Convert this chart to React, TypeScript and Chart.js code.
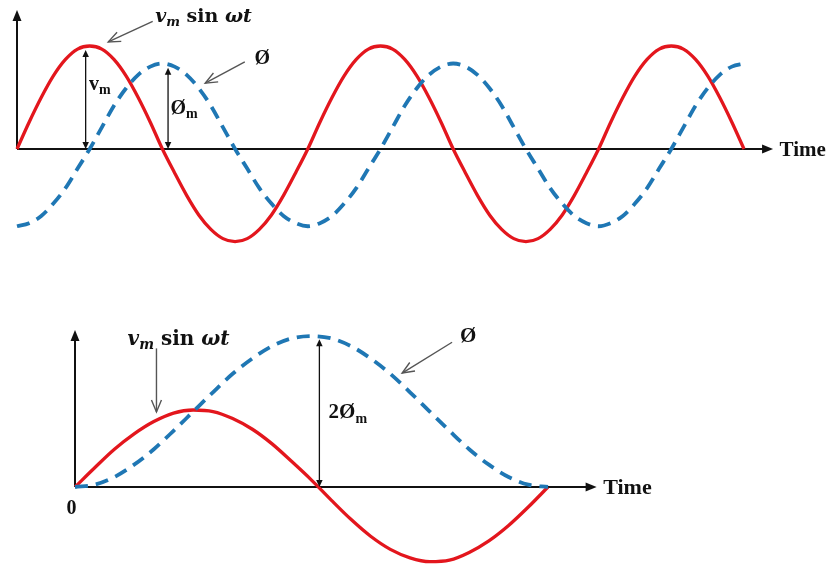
import React, { useEffect, useRef } from "react";
import { Chart, registerables } from "chart.js";

Chart.register(...registerables);

// Upper plot: three half-cycles of supply voltage and core flux, phase in degrees of ωt
const upperAngles = [
  0, 15, 30, 45, 60, 75, 90, 105, 120, 135, 150, 165, 180,
  195, 210, 225, 240, 255, 270, 285, 300, 315, 330, 345, 360,
  375, 390, 405, 420, 435, 450, 465, 480, 495, 510, 525, 540,
  555, 570, 585, 600, 615, 630, 645, 660, 675, 690, 705, 720,
  735, 750, 765, 780, 795, 810, 825, 840, 855, 870, 885, 900,
];
const upperVoltage = [
  0, 0.26, 0.5, 0.71, 0.87, 0.97, 1, 0.97, 0.87, 0.71, 0.5, 0.26, 0,
  -0.23, -0.45, -0.64, -0.78, -0.87, -0.9, -0.87, -0.78, -0.64, -0.45, -0.23, 0,
  0.26, 0.5, 0.71, 0.87, 0.97, 1, 0.97, 0.87, 0.71, 0.5, 0.26, 0,
  -0.23, -0.45, -0.64, -0.78, -0.87, -0.9, -0.87, -0.78, -0.64, -0.45, -0.23, 0,
  0.26, 0.5, 0.71, 0.87, 0.97, 1, 0.97, 0.87, 0.71, 0.5, 0.26, 0,
];
const upperFlux = [
  -0.75, -0.72, -0.65, -0.53, -0.38, -0.19, 0,
  0.21, 0.42, 0.59, 0.72, 0.8, 0.83, 0.8, 0.72, 0.59, 0.42, 0.21, 0,
  -0.19, -0.38, -0.53, -0.65, -0.72, -0.75, -0.72, -0.65, -0.53, -0.38, -0.19, 0,
  0.21, 0.42, 0.59, 0.72, 0.8, 0.83, 0.8, 0.72, 0.59, 0.42, 0.21, 0,
  -0.19, -0.38, -0.53, -0.65, -0.72, -0.75, -0.72, -0.65, -0.53, -0.38, -0.19, 0,
  0.21, 0.42, 0.59, 0.72, 0.8, 0.83,
];

// Lower plot: switching on at a voltage zero, flux climbs to twice its normal peak
const lowerAngles = [
  0, 15, 30, 45, 60, 75, 90, 105, 120, 135, 150, 165, 180,
  195, 210, 225, 240, 255, 270, 285, 300, 315, 330, 345, 360,
];
const lowerVoltage = [
  0, 0.25, 0.49, 0.69, 0.85, 0.96, 1, 0.98, 0.89, 0.75, 0.56, 0.33, 0.09,
  -0.17, -0.42, -0.64, -0.81, -0.92, -0.97, -0.95, -0.85, -0.7, -0.5, -0.26, 0,
];
const lowerFlux = [
  0, 0.03, 0.13, 0.29, 0.49, 0.73, 0.98, 1.23, 1.47, 1.67, 1.83, 1.93, 1.96,
  1.93, 1.83, 1.67, 1.47, 1.23, 0.98, 0.73, 0.49, 0.29, 0.13, 0.03, 0,
];

const VOLT_RED = "#e3161d";
const FLUX_BLUE = "#1f77b4";
const INK = "#111111";
const POINTER = "#555555";
const SERIF = '"Liberation Serif", "Times New Roman", serif';
const MATH = '"DejaVu Serif", serif';

type Piece = { text: string; style?: string; sub?: boolean; family?: string };

const series = (xs: number[], ys: number[]) => xs.map((x, i) => ({ x, y: ys[i] }));

function head(
  ctx: CanvasRenderingContext2D,
  x1: number, y1: number, x2: number, y2: number,
  len: number, wid: number, filled: boolean
) {
  const a = Math.atan2(y2 - y1, x2 - x1);
  const bx = x2 - len * Math.cos(a);
  const by = y2 - len * Math.sin(a);
  const nx = (-Math.sin(a) * wid) / 2;
  const ny = (Math.cos(a) * wid) / 2;
  ctx.beginPath();
  if (filled) {
    ctx.moveTo(x2, y2);
    ctx.lineTo(bx + nx, by + ny);
    ctx.lineTo(bx - nx, by - ny);
    ctx.closePath();
    ctx.fill();
  } else {
    ctx.moveTo(bx + nx, by + ny);
    ctx.lineTo(x2, y2);
    ctx.lineTo(bx - nx, by - ny);
    ctx.stroke();
  }
}

function axisArrow(ctx: CanvasRenderingContext2D, x1: number, y1: number, x2: number, y2: number) {
  const len = 11;
  const a = Math.atan2(y2 - y1, x2 - x1);
  ctx.save();
  ctx.strokeStyle = INK;
  ctx.fillStyle = INK;
  ctx.lineWidth = 2;
  ctx.beginPath();
  ctx.moveTo(x1, y1);
  ctx.lineTo(x2 - (len - 1) * Math.cos(a), y2 - (len - 1) * Math.sin(a));
  ctx.stroke();
  head(ctx, x1, y1, x2, y2, len, 9, true);
  ctx.restore();
}

function spanArrow(ctx: CanvasRenderingContext2D, x: number, yLow: number, yHigh: number) {
  const len = 7;
  ctx.save();
  ctx.strokeStyle = INK;
  ctx.fillStyle = INK;
  ctx.lineWidth = 1.3;
  ctx.beginPath();
  ctx.moveTo(x, yLow - len + 1);
  ctx.lineTo(x, yHigh + len - 1);
  ctx.stroke();
  head(ctx, x, yHigh, x, yLow, len, 6.5, true);
  head(ctx, x, yLow, x, yHigh, len, 6.5, true);
  ctx.restore();
}

function pointer(ctx: CanvasRenderingContext2D, x1: number, y1: number, x2: number, y2: number) {
  ctx.save();
  ctx.strokeStyle = POINTER;
  ctx.lineWidth = 1.4;
  ctx.beginPath();
  ctx.moveTo(x1, y1);
  ctx.lineTo(x2, y2);
  ctx.stroke();
  head(ctx, x1, y1, x2, y2, 12, 10, false);
  ctx.restore();
}

function rich(ctx: CanvasRenderingContext2D, pieces: Piece[], x: number, cy: number, size: number) {
  ctx.save();
  ctx.fillStyle = INK;
  ctx.textAlign = "left";
  ctx.textBaseline = "alphabetic";
  const base = cy + size * 0.34;
  let cx = x;
  for (const p of pieces) {
    const s = p.sub ? Math.round(size * 0.68) : size;
    ctx.font = `${p.style ?? "bold"} ${s}px ${p.family ?? SERIF}`;
    const by = p.sub ? base + size * 0.22 : base;
    ctx.fillText(p.text, cx, by);
    cx += ctx.measureText(p.text).width;
  }
  ctx.restore();
}

const formula: Piece[] = [
  { text: "v", style: "italic bold", family: MATH },
  { text: "m", style: "italic bold", family: MATH, sub: true },
  { text: " sin ", style: "bold", family: MATH },
  { text: "ωt", style: "italic bold", family: MATH },
];
const phi: Piece[] = [{ text: "Ø" }];
const vm: Piece[] = [{ text: "v" }, { text: "m", sub: true }];
const phiM: Piece[] = [{ text: "Ø" }, { text: "m", sub: true }];
const twoPhiM: Piece[] = [{ text: "2Ø" }, { text: "m", sub: true }];
const timeLabel: Piece[] = [{ text: "Time" }];
const originLabel: Piece[] = [{ text: "0" }];

type Draw = (ctx: CanvasRenderingContext2D, X: (v: number) => number, Y: (v: number) => number) => void;

function decorations(id: string, under: Draw, over: Draw) {
  const coords = (chart: Chart) => {
    const sx = chart.scales.x;
    const sy = chart.scales.y;
    return [(v: number) => sx.getPixelForValue(v), (v: number) => sy.getPixelForValue(v)] as const;
  };
  return {
    id,
    beforeDatasetsDraw(chart: Chart) {
      const [X, Y] = coords(chart);
      under(chart.ctx, X, Y);
    },
    afterDatasetsDraw(chart: Chart) {
      const [X, Y] = coords(chart);
      over(chart.ctx, X, Y);
    },
  };
}

const upperUnder: Draw = (ctx, X, Y) => {
  axisArrow(ctx, X(0), Y(0), X(936), Y(0));
  axisArrow(ctx, X(0), Y(0), X(0), Y(1.35));
};
const upperOver: Draw = (ctx, X, Y) => {
  spanArrow(ctx, X(85), Y(0), Y(0.96));
  spanArrow(ctx, X(187), Y(0), Y(0.79));
  rich(ctx, vm, X(89), Y(0.64), 20);
  rich(ctx, phiM, X(190), Y(0.41), 20);
  rich(ctx, formula, X(171), Y(1.3), 19);
  pointer(ctx, X(168), Y(1.24), X(113), Y(1.04));
  rich(ctx, phi, X(294), Y(0.89), 20);
  pointer(ctx, X(282), Y(0.845), X(233), Y(0.64));
  rich(ctx, timeLabel, X(944), Y(0), 21);
};

const lowerUnder: Draw = (ctx, X, Y) => {
  axisArrow(ctx, X(0), Y(0), X(397), Y(0));
  axisArrow(ctx, X(0), Y(0), X(0), Y(2.04));
};
const lowerOver: Draw = (ctx, X, Y) => {
  spanArrow(ctx, X(186), Y(0), Y(1.92));
  rich(ctx, twoPhiM, X(193), Y(0.99), 21);
  rich(ctx, formula, X(40), Y(1.935), 20);
  pointer(ctx, X(62), Y(1.8), X(62), Y(0.975));
  rich(ctx, phi, X(293), Y(1.97), 21);
  pointer(ctx, X(287), Y(1.88), X(249), Y(1.48));
  rich(ctx, timeLabel, X(402), Y(0), 22);
  rich(ctx, originLabel, X(-6.5), Y(-0.26), 20);
};

function makeChart(
  canvas: HTMLCanvasElement,
  xs: number[], volts: number[], flux: number[],
  xMax: number, yMin: number, yMax: number,
  padding: { left: number; right: number; top: number; bottom: number },
  plugin: any
) {
  return new Chart(canvas, {
    type: "line",
    data: {
      datasets: [
        {
          label: "Ø",
          data: series(xs, flux),
          borderColor: FLUX_BLUE,
          borderWidth: 3.8,
          borderDash: [13, 8],
          pointRadius: 0,
          cubicInterpolationMode: "monotone",
          clip: false,
          fill: false,
        },
        {
          label: "vm sin ωt",
          data: series(xs, volts),
          borderColor: VOLT_RED,
          borderWidth: 3.3,
          pointRadius: 0,
          cubicInterpolationMode: "monotone",
          clip: false,
          fill: false,
        },
      ],
    },
    options: {
      animation: false,
      responsive: false,
      devicePixelRatio: 1,
      layout: { padding },
      events: [],
      scales: {
        x: { type: "linear", min: 0, max: xMax, display: false },
        y: { type: "linear", min: yMin, max: yMax, display: false },
      },
      plugins: { legend: { display: false }, tooltip: { enabled: false } },
    },
    plugins: [plugin],
  });
}

export default function App() {
  const upperRef = useRef<HTMLCanvasElement>(null);
  const lowerRef = useRef<HTMLCanvasElement>(null);

  useEffect(() => {
    const upper = makeChart(
      upperRef.current!, upperAngles, upperVoltage, upperFlux,
      900, -1.2, 1.4,
      { left: 17, right: 87, top: 4.8, bottom: 7.4 },
      decorations("upperMarks", upperUnder, upperOver)
    );
    const lower = makeChart(
      lowerRef.current!, lowerAngles, lowerVoltage, lowerFlux,
      360, -1.0, 2.3,
      { left: 75, right: 283, top: 29.9, bottom: 1 },
      decorations("lowerMarks", lowerUnder, lowerOver)
    );
    return () => {
      upper.destroy();
      lower.destroy();
    };
  }, []);

  return (
    <div style={{ position: "absolute", left: 0, top: 0, width: 831, height: 565, background: "#ffffff" }}>
      <canvas ref={upperRef} width={831} height={280} style={{ position: "absolute", left: 0, top: 0 }} />
      <canvas ref={lowerRef} width={831} height={285} style={{ position: "absolute", left: 0, top: 280 }} />
    </div>
  );
}
